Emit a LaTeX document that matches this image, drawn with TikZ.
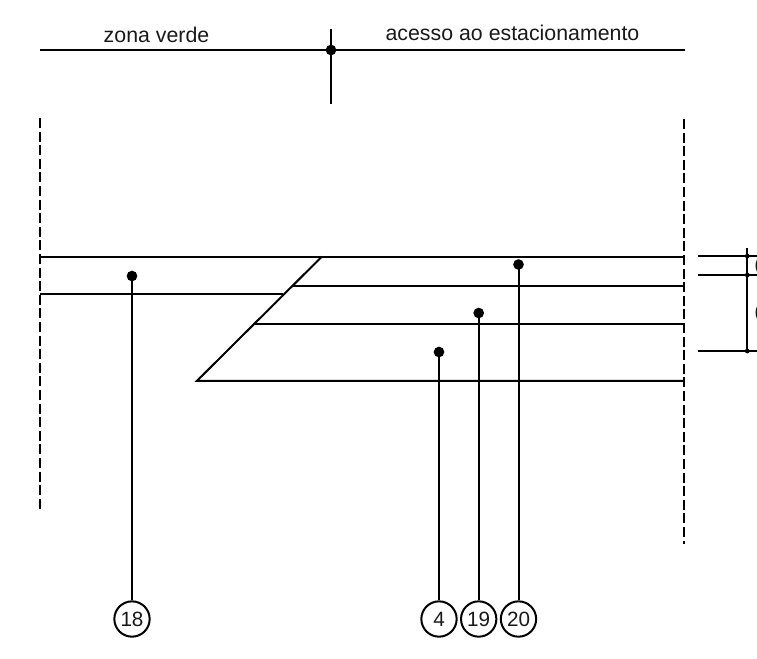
\documentclass[tikz,border=0pt]{standalone}
\usepackage{fontspec}
\setmainfont{Liberation Sans}
\tikzset{
  ln/.style={line width=1.5pt,black},
  dsh/.style={line width=1.5pt,black,dash pattern=on 7.5pt off 2.7pt},
  dotn/.style={circle,fill=black,inner sep=0pt,minimum size=8pt},
  smalldot/.style={circle,fill=black,inner sep=0pt,minimum size=3.6pt},
  lab/.style={font=\fontsize{16}{18}\selectfont,inner sep=0pt,text=black!90},
  bub/.style={circle,draw=black,line width=1.5pt,fill=white,minimum size=26.5pt,inner sep=0pt,font=\fontsize{15.5}{18}\selectfont,text=black!90}
}
\begin{document}
\begin{tikzpicture}[x=0.75pt,y=-0.75pt]
\useasboundingbox (0,0) rectangle (757,658);
\clip (0,0) rectangle (757,658);
% top section
\coordinate (tl) at (40,50); \coordinate (tr) at (685,50);
\coordinate (vt) at (331,29); \coordinate (vb) at (331,104);
\draw[ln] (tl) -- (tr);
\draw[ln] (vt) -- (vb);
\node[dotn] (topdot) at (331,50) {};
\node[lab] (zv) at (156.5,35) {zona verde};
\node[lab] (ae) at (512.5,33) {acesso ao estacionamento};
% dashed sides
\coordinate (dl1) at (40,118); \coordinate (dl2) at (40,509);
\coordinate (dr1) at (683.5,119); \coordinate (dr2) at (683.5,544);
\draw[dsh] (dl1) -- (dl2);
\draw[dsh] (dr1) -- (dr2);
% horizontals
\coordinate (a1) at (40,256.5); \coordinate (a2) at (322,256.5); \coordinate (a3) at (683.5,256.5);
\coordinate (b1) at (40,294.3); \coordinate (b2) at (283,294.3);
\coordinate (c1) at (292,286.2); \coordinate (c2) at (683.5,286.2);
\coordinate (d1) at (253,324.4); \coordinate (d2) at (683.5,324.4);
\coordinate (e1) at (197,380.8); \coordinate (e2) at (683.5,380.8);
\draw[ln] (a1) -- (a2) -- (a3);
\draw[ln] (b1) -- (b2);
\draw[ln] (c1) -- (c2);
\draw[ln] (d1) -- (d2);
\draw[ln,line join=miter] (a2) -- (e1) -- (e2);
% dimension
\coordinate (f1) at (698,256); \coordinate (f2) at (757,256);
\coordinate (g1) at (698,275); \coordinate (g2) at (757,275);
\coordinate (h1) at (698,351); \coordinate (h2) at (757,351);
\coordinate (v1) at (747.3,248);
\draw[ln] (f1) -- (f2);
\draw[ln] (g1) -- (g2);
\draw[ln] (h1) -- (h2);
\node[smalldot] (s1) at (747.3,256) {};
\node[smalldot] (s2) at (747.3,275) {};
\node[smalldot] (s3) at (747.3,351) {};
\draw[ln] (v1) -- (s3.center);
\node[lab,anchor=west] (d0a) at (754.5,266) {0};
\node[lab,anchor=west] (d0b) at (754.5,313) {0};
% bubbles and leaders
\node[bub] (n18) at (132,619) {18};
\node[bub] (n4) at (439,619) {4};
\node[bub] (n19) at (478.7,619) {19};
\node[bub] (n20) at (518.5,619) {20};
\node[dotn] (p18) at (132,276) {};
\node[dotn] (p4) at (439,352) {};
\node[dotn] (p19) at (478.7,313) {};
\node[dotn] (p20) at (518.5,264.5) {};
\draw[ln] (p18.center) -- (n18);
\draw[ln] (p4.center) -- (n4);
\draw[ln] (p19.center) -- (n19);
\draw[ln] (p20.center) -- (n20);
\end{tikzpicture}
\end{document}
